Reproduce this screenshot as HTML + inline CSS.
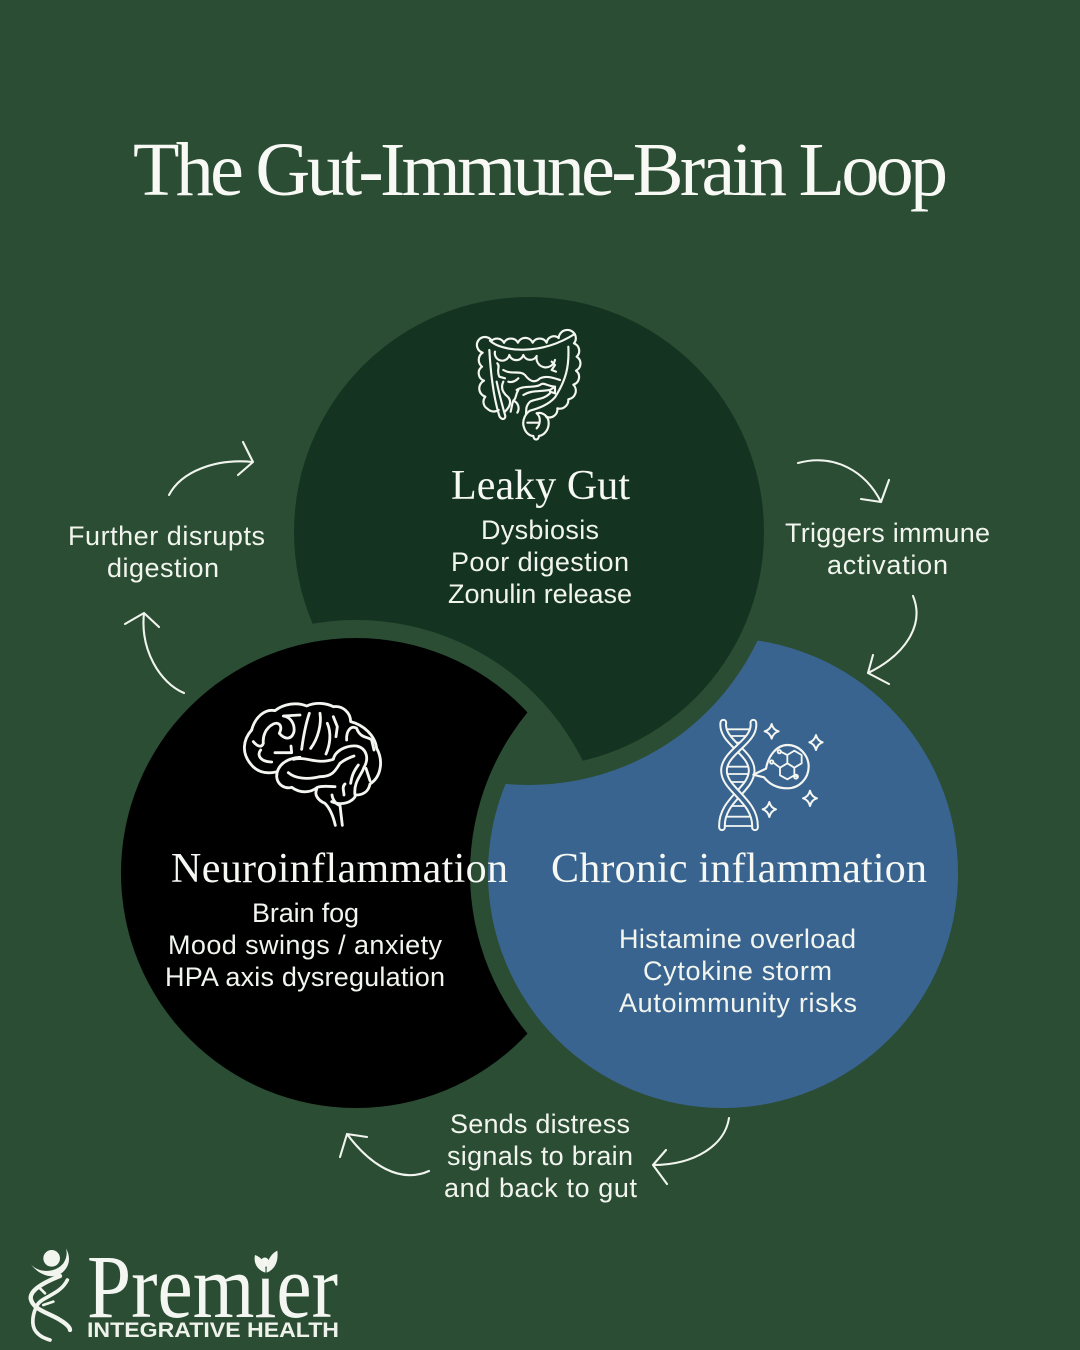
<!DOCTYPE html>
<html lang="en">
<head>
<meta charset="utf-8">
<title>The Gut-Immune-Brain Loop</title>
<style>
html,body{margin:0;padding:0;width:1080px;height:1350px;background:#2a4d34;overflow:hidden}
svg{display:block}
.t{font-family:"Liberation Sans",sans-serif;font-size:27px;fill:#f1f5ee}
.h{font-family:"Liberation Serif",serif;font-size:42px;fill:#f6f8f3}
.a{fill:none;stroke:#f1f5ee;stroke-width:2.1;stroke-linecap:round;stroke-linejoin:round}
.i{fill:none;stroke:#f4f6f1;stroke-width:6.5;stroke-linecap:round;stroke-linejoin:round}
</style>
</head>
<body>
<svg width="1080" height="1350" viewBox="0 0 1080 1350" xmlns="http://www.w3.org/2000/svg">
<defs>
<mask id="mg" maskUnits="userSpaceOnUse" x="0" y="0" width="1080" height="1350"><rect width="1080" height="1350" fill="#fff"/><circle cx="356" cy="873" r="253" fill="#000"/></mask>
<mask id="mb" maskUnits="userSpaceOnUse" x="0" y="0" width="1080" height="1350"><rect width="1080" height="1350" fill="#fff"/><circle cx="529" cy="532" r="253" fill="#000"/></mask>
<mask id="mk" maskUnits="userSpaceOnUse" x="0" y="0" width="1080" height="1350"><rect width="1080" height="1350" fill="#fff"/><circle cx="723" cy="873" r="253" fill="#000"/></mask>
</defs>
<rect width="1080" height="1350" fill="#2a4d34"/>
<circle cx="529" cy="532" r="235" fill="#153321" mask="url(#mg)"/>
<circle cx="723" cy="873" r="235" fill="#3a6490" mask="url(#mb)"/>
<circle cx="356" cy="873" r="235" fill="#000" mask="url(#mk)"/>

<text x="133" y="195" textLength="815" font-family="Liberation Serif, serif" font-size="76" fill="#f8f9f5">The Gut-Immune-Brain Loop</text>

<text class="h" x="451" y="499" textLength="179">Leaky Gut</text>
<text class="h" x="171" y="882" textLength="337">Neuroinflammation</text>
<text class="h" x="551" y="882" textLength="376">Chronic inflammation</text>

<text class="t" x="481" y="539" textLength="118">Dysbiosis</text>
<text class="t" x="451" y="571" textLength="178">Poor digestion</text>
<text class="t" x="448" y="603" textLength="184">Zonulin release</text>

<text class="t" x="252" y="922" textLength="107">Brain fog</text>
<text class="t" x="168" y="954" textLength="274">Mood swings / anxiety</text>
<text class="t" x="165" y="986" textLength="280">HPA axis dysregulation</text>

<text class="t" x="619" y="948" textLength="237">Histamine overload</text>
<text class="t" x="643" y="980" textLength="189">Cytokine storm</text>
<text class="t" x="619" y="1012" textLength="238">Autoimmunity risks</text>

<text class="t" x="68" y="545" textLength="197">Further disrupts</text>
<text class="t" x="107" y="577" textLength="112">digestion</text>
<text class="t" x="785" y="542" textLength="205">Triggers immune</text>
<text class="t" x="827" y="574" textLength="121">activation</text>
<text class="t" x="450" y="1133" textLength="180">Sends distress</text>
<text class="t" x="447" y="1165" textLength="186">signals to brain</text>
<text class="t" x="444" y="1197" textLength="193">and back to gut</text>

<!-- arrows -->
<path class="a" d="M169,495 C181,472 215,458 253,462 M243,442 L253,462 L238,475"/>
<path class="a" d="M798,463 C835,453 866,472 881,502 M861,499 L881,502 L889,480"/>
<path class="a" d="M913,596 C925,625 905,655 868,673 M873,655 L868,673 L889,684"/>
<path class="a" d="M729,1118 C725,1145 695,1165 653,1165 M666,1150 L653,1165 L667,1184"/>
<path class="a" d="M429,1171 C400,1184 370,1165 347,1134 M367,1137 L347,1134 L340,1157"/>
<path class="a" d="M184,693 C160,683 140,650 144,613 M125,624 L144,613 L159,627"/>

<!-- gut -->
<g transform="translate(440,310) scale(.3333)" class="i">
<path d="M192,98 A24,24 0 0 0 155,92 A24,24 0 1 0 128,128 A26,26 0 0 0 126,170 A24,24 0 0 0 132,212 A26,26 0 0 0 136,260 A24,24 0 0 0 142,296 A26,26 0 0 0 176,300"/>
<path d="M192,98 A24,24 0 0 1 234,98 A24,24 0 0 1 278,98 A24,24 0 0 1 320,98 A22,22 0 0 1 356,84 A26,26 0 0 1 404,72 A24,24 0 0 1 402,100 A24,24 0 0 1 410,140 A24,24 0 0 1 408,182 A24,24 0 0 1 400,224 A26,26 0 0 1 385,268 A26,26 0 0 1 352,295 A24,24 0 0 1 318,320"/>
<path d="M150,92 C185,125 300,138 404,72"/>
<path d="M148,120 C152,190 160,260 178,318 C184,330 196,330 196,318 C188,290 178,255 170,215"/>
<path d="M385,110 C388,170 378,210 345,262 C325,285 295,295 270,302 C255,312 248,330 250,345 C255,370 270,378 280,378 C282,392 295,392 297,378 C315,375 330,355 325,330 C320,315 305,305 290,310"/>
<path d="M262,338 L298,338 M290,310 C305,322 300,345 290,355"/>
<path d="M165,125 A22,22 0 0 0 208,135 A22,22 0 0 0 250,135 A22,22 0 0 0 290,138 A22,22 0 0 0 345,150"/>
<path d="M172,160 C182,170 168,180 178,200 L195,205 M190,215 C180,235 190,250 205,262 C215,275 210,290 195,305"/>
<path d="M190,180 C215,195 240,180 255,195 C270,215 285,220 300,205 C320,195 345,205 360,210"/>
<path d="M335,155 L345,165 L335,180 L348,185"/>
<path d="M205,215 C215,218 225,215 235,205 M230,240 C250,225 280,235 300,225 C310,215 320,228 345,230"/>
<path d="M235,240 C225,255 230,265 220,272 C235,278 240,295 232,308 M220,272 C215,285 215,295 212,305"/>
<path d="M250,255 C275,240 300,245 330,240 L345,230 L345,250 L330,245 M330,250 C310,270 290,265 270,275 C255,290 260,300 258,310"/>
</g>

<!-- brain -->
<g transform="translate(220,680) scale(.3333)" class="i" style="stroke-width:8.5">
<path d="M95,150 C105,112 135,85 165,92 C190,72 230,65 260,78 C290,65 320,70 340,80 C368,76 392,98 392,125 C430,135 465,165 470,205 C490,240 485,290 450,312 C445,338 425,345 408,345 C398,368 365,378 335,365"/>
<path d="M95,150 C68,180 65,220 92,252 C112,278 140,282 168,276"/>
<path d="M240,232 C200,235 170,255 170,290 C172,315 195,328 215,322 C240,340 270,340 292,322 C310,316 325,320 345,320"/>
<path d="M220,238 C260,228 290,255 340,238 C345,212 380,195 410,198 C440,205 448,235 432,262 C425,285 400,305 405,345"/>
<path d="M290,328 C282,345 295,362 315,370 C330,385 340,410 346,436 M336,345 C338,360 350,375 360,376 L367,436"/>
<path d="M205,278 C225,295 260,300 300,290 C335,290 345,275 360,250 C375,238 390,232 402,228"/>
<path d="M100,185 C110,198 125,205 130,190 C128,170 135,145 160,132 C175,125 190,135 178,160 C195,180 215,180 222,155 C225,130 210,110 190,108 L240,105"/>
<path d="M122,210 C110,225 120,245 155,246 M165,218 L215,218 L213,198"/>
<path d="M245,208 C250,170 258,130 268,100"/>
<path d="M272,205 C295,175 305,130 300,100 M322,130 C335,160 330,195 318,222"/>
<path d="M340,110 L352,140 L348,170"/>
<path d="M380,180 C378,150 395,135 410,145 C420,175 445,170 455,180 L462,210"/>
<path d="M392,310 C395,290 400,275 415,255 M438,265 L450,302 M375,312 C365,320 372,335 372,345"/>
</g>

<!-- dna -->
<g transform="translate(700,700) scale(.3333)" fill="none" stroke-linecap="round" stroke-linejoin="round">
<g stroke="#f4f6f1" stroke-width="5.5">
<path d="M82,88 L152,88 M78,108 L156,108 M90,128 L140,128 M82,200 L148,200 M76,222 L152,222 M82,246 L148,246 M95,318 L140,318 M82,350 L152,350 M76,378 L158,378"/>
</g>
<path d="M70,68 C62,125 155,155 155,212 C155,270 62,300 66,382" stroke="#f4f6f1" stroke-width="23"/>
<path d="M70,68 C62,125 155,155 155,212 C155,270 62,300 66,382" stroke="#3a6490" stroke-width="11"/>
<path d="M160,68 C168,125 72,155 72,212 C72,270 168,300 165,382" stroke="#f4f6f1" stroke-width="23"/>
<path d="M160,68 C168,125 72,155 72,212 C72,270 168,300 165,382" stroke="#3a6490" stroke-width="11"/>
<path d="M160,224 L198,206 C205,165 232,135 262,135 C298,135 326,165 326,200 C326,235 298,265 262,265 C235,265 210,255 192,232 Z" fill="#3a6490" stroke="#f4f6f1" stroke-width="6.5"/>
<g stroke="#f4f6f1" stroke-width="5.5">
<path d="M262,165 L283,152 L305,165 L305,190 L283,203 L262,190 Z M262,190 L240,203 L240,226 L262,238 L283,226 L283,203"/>
<path d="M262,165 L242,155 M240,203 L220,188 M283,226 L290,230"/>
<circle cx="238" cy="155" r="5"/><circle cx="215" cy="186" r="5"/><circle cx="288" cy="230" r="6"/>
</g>
<g fill="#3a6490" stroke="#f4f6f1" stroke-width="6">
<path d="M215,72 C218,85 225,91 236,94 C225,97 218,105 215,116 C212,105 205,97 194,94 C205,91 212,85 215,72 Z"/>
<path d="M348,105 C351,117 358,124 368,127 C358,130 351,138 348,150 C345,138 338,130 328,127 C338,124 345,117 348,105 Z"/>
<path d="M330,272 C333,284 340,292 351,295 C340,298 333,306 330,318 C327,306 320,298 309,295 C320,292 327,284 330,272 Z"/>
<path d="M208,306 C211,318 218,325 228,328 C218,331 211,339 208,351 C205,339 198,331 188,328 C198,325 205,318 208,306 Z"/>
</g>
</g>

<!-- logo -->
<text x="87" y="1317" textLength="251" lengthAdjust="spacingAndGlyphs" font-family="Liberation Serif, serif" font-size="90" fill="#f4f6f1">Premier</text>
<text x="87" y="1337" textLength="252" lengthAdjust="spacingAndGlyphs" font-family="Liberation Sans, sans-serif" font-size="21" font-weight="700" fill="#eef2ea">INTEGRATIVE HEALTH</text>
<g transform="translate(10,1230) scale(.3333)">
<circle cx="125" cy="85" r="25" fill="#f1f5ee"/>
<path d="M62,102 C85,130 135,130 160,100 C170,85 172,70 168,55 C182,80 180,105 160,125 C135,150 90,140 62,102 Z" fill="#f1f5ee"/>
<g fill="none" stroke="#f1f5ee" stroke-linecap="round">
<path d="M150,138 C120,150 60,175 62,205 C68,240 120,250 150,270 C175,285 180,295 180,300" stroke-width="13"/>
<path d="M172,150 C150,195 95,200 82,225 C68,250 62,285 78,305 C90,320 105,325 120,330" stroke-width="11"/>
<path d="M85,170 L105,190 M100,225 L130,215" stroke-width="8"/>
</g>
<rect x="735" y="118" width="50" height="28" fill="#2a4d34"/>
<g fill="#f1f5ee">
<path d="M766,128 C742,120 730,100 735,75 C755,82 770,100 766,128 Z"/>
<path d="M770,128 C768,95 782,72 802,62 C806,92 796,118 770,128 Z"/>
</g>
</g>
</svg>
</body>
</html>
